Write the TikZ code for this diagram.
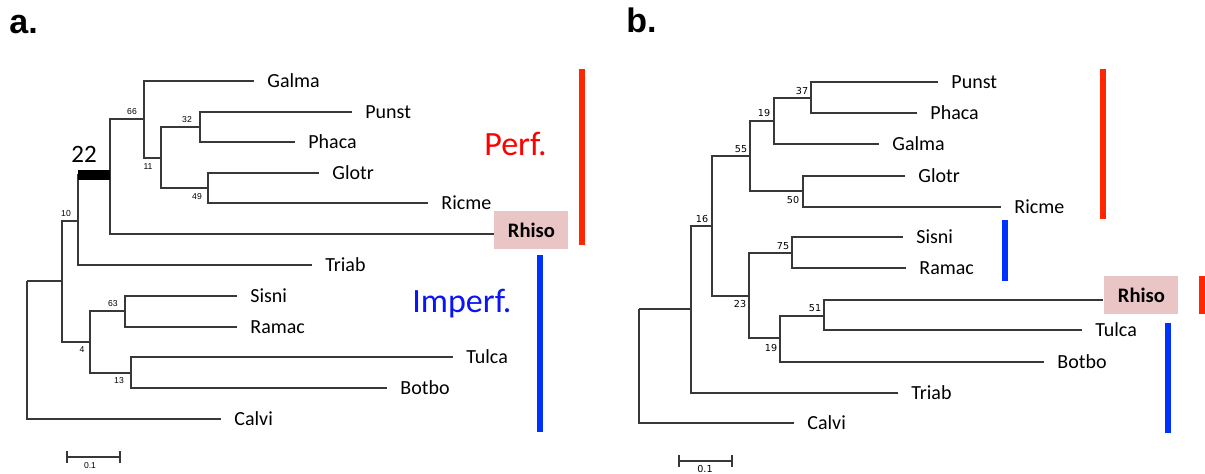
\documentclass[tikz,border=0pt]{standalone}
\usepackage{fontspec}
\setmainfont{Carlito}
\newfontfamily\arialfont{Liberation Sans}
\newfontfamily\verdfont{DejaVu Sans}
\definecolor{perfred}{RGB}{255,0,0}
\definecolor{barred}{RGB}{255,38,0}
\definecolor{imperfblue}{RGB}{10,20,245}
\definecolor{barblue}{RGB}{0,50,255}
\definecolor{rhisopink}{RGB}{233,197,197}
\begin{document}
\begin{tikzpicture}[x=0.5pt,y=-0.5pt,
  edge/.style={draw=black!78,line width=0.6pt},
  leaf/.style={anchor=west,inner xsep=6.5pt,inner ysep=0pt,text height=6.4pt,text depth=0pt,font=\fontsize{10}{12}\selectfont},
  rhisobox/.style={anchor=north west,fill=rhisopink,inner sep=0pt,minimum width=37pt,minimum height=19pt,font=\fontsize{10.3}{12}\selectfont\bfseries},
  bsA/.style={inner sep=0pt,font=\arialfont\fontsize{4.3}{5}\selectfont},
  bsB/.style={inner sep=0pt,font=\verdfont\fontsize{4.8}{5.5}\selectfont},
  groupbar/.style={line width=2.6pt},
  panel/.style={anchor=base west,inner sep=0pt,font=\arialfont\bfseries\fontsize{17}{20}\selectfont},
  grouptext/.style={anchor=base west,inner sep=0pt,font=\fontsize{17}{20}\selectfont}]
\useasboundingbox (0,0) rectangle (1205,474);

% ---------------- panel a ----------------
\node[panel] (pa) at (9,34) {a.};

% internal nodes
\coordinate (aRoot) at (27,281);
\coordinate (aA) at (62,281);
\coordinate (a10) at (78,221);
\coordinate (a22) at (110,175);
\coordinate (a66) at (144,119);
\coordinate (a11) at (161,158);
\coordinate (a32) at (200,127);
\coordinate (a49) at (208,188);
\coordinate (a4) at (90,342);
\coordinate (a63) at (125,311);
\coordinate (a13) at (131,373);

% leaves
\node[leaf] (aGalma) at (254,81) {Galma};
\node[leaf] (aPunst) at (352,112) {Punst};
\node[leaf] (aPhaca) at (295,142) {Phaca};
\node[leaf] (aGlotr) at (319,173) {Glotr};
\node[leaf] (aRicme) at (428,203) {Ricme};
\coordinate (aRhisoEnd) at (494,234);
\node[rhisobox] (aRhiso) at (494,211) {Rhiso};
\node[leaf] (aTriab) at (312,265) {Triab};
\node[leaf] (aSisni) at (237,296) {Sisni};
\node[leaf] (aRamac) at (237,327) {Ramac};
\node[leaf] (aTulca) at (453,357) {Tulca};
\node[leaf] (aBotbo) at (387,388) {Botbo};
\node[leaf] (aCalvi) at (221,419) {Calvi};

% branches
\draw[edge] (aRoot) -- (aA);
\draw[edge] (aRoot) |- (aCalvi.west);
\draw[edge] (aA) |- (a10);
\draw[edge] (aA) |- (a4);
\draw[edge] (a10) |- (a22);
\draw[edge] (a10) |- (aTriab.west);
\draw[edge] (a22) |- (a66);
\draw[edge] (a22) |- (aRhisoEnd);
\draw[edge] (a66) |- (aGalma.west);
\draw[edge] (a66) |- (a11);
\draw[edge] (a11) |- (a32);
\draw[edge] (a11) |- (a49);
\draw[edge] (a32) |- (aPunst.west);
\draw[edge] (a32) |- (aPhaca.west);
\draw[edge] (a49) |- (aGlotr.west);
\draw[edge] (a49) |- (aRicme.west);
\draw[edge] (a4) |- (a63);
\draw[edge] (a4) |- (a13);
\draw[edge] (a63) |- (aSisni.west);
\draw[edge] (a63) |- (aRamac.west);
\draw[edge] (a13) |- (aTulca.west);
\draw[edge] (a13) |- (aBotbo.west);

% highlighted stem
\fill[black] (78,170) rectangle (110,180);
\node[anchor=base west,inner sep=0pt,font=\fontsize{12.5}{14}\selectfont] (a22lab) at (71,163) {22};

% support values
\node[bsA] (l66) at (132,112) {66};
\node[bsA] (l11) at (148,167) {11};
\node[bsA] (l32) at (187,120) {32};
\node[bsA] (l49) at (197,197) {49};
\node[bsA] (l10) at (66,214) {10};
\node[bsA] (l63) at (113,304) {63};
\node[bsA] (l4) at (82,350) {4};
\node[bsA] (l13) at (119,381) {13};

% scale bar
\coordinate (asb1) at (67,457);
\coordinate (asb2) at (120,457);
\draw[edge] (asb1) -- (asb2);
\draw[edge] ([yshift=-3]asb1) -- ([yshift=3]asb1);
\draw[edge] ([yshift=-3]asb2) -- ([yshift=3]asb2);
\node[bsA] (asbl) at (90,466) {0.1};

% groups
\node[grouptext,text=perfred] (aPerf) at (484,156) {Perf.};
\node[grouptext,text=imperfblue] (aImperf) at (412,313) {Imperf.};
\draw[groupbar,barred] (582,69) -- (582,245);
\draw[groupbar,barblue] (540,255) -- (540,432);

% ---------------- panel b ----------------
\node[panel] (pb) at (626,33) {b.};

\coordinate (bRoot) at (639,309);
\coordinate (bB) at (691,309);
\coordinate (b16) at (712,226);
\coordinate (b55) at (750,156);
\coordinate (b19a) at (774,121);
\coordinate (b37) at (811,98);
\coordinate (b50) at (803,191);
\coordinate (b23) at (749,296);
\coordinate (b75) at (792,253);
\coordinate (b19b) at (780,338);
\coordinate (b51) at (824,316);

\node[leaf] (bPunst) at (938,82) {Punst};
\node[leaf] (bPhaca) at (917,113) {Phaca};
\node[leaf] (bGalma) at (879,144) {Galma};
\node[leaf] (bGlotr) at (905,176) {Glotr};
\node[leaf] (bRicme) at (1001,207) {Ricme};
\node[leaf] (bSisni) at (903,237) {Sisni};
\node[leaf] (bRamac) at (906,268) {Ramac};
\coordinate (bRhisoEnd) at (1103,300);
\node[rhisobox] (bRhiso) at (1104,276) {Rhiso};
\node[leaf] (bTulca) at (1082,330) {Tulca};
\node[leaf] (bBotbo) at (1044,362) {Botbo};
\node[leaf] (bTriab) at (898,393) {Triab};
\node[leaf] (bCalvi) at (794,423) {Calvi};

\draw[edge] (bRoot) -- (bB);
\draw[edge] (bRoot) |- (bCalvi.west);
\draw[edge] (bB) |- (b16);
\draw[edge] (bB) |- (bTriab.west);
\draw[edge] (b16) |- (b55);
\draw[edge] (b16) |- (b23);
\draw[edge] (b55) |- (b19a);
\draw[edge] (b55) |- (b50);
\draw[edge] (b19a) |- (b37);
\draw[edge] (b19a) |- (bGalma.west);
\draw[edge] (b37) |- (bPunst.west);
\draw[edge] (b37) |- (bPhaca.west);
\draw[edge] (b50) |- (bGlotr.west);
\draw[edge] (b50) |- (bRicme.west);
\draw[edge] (b23) |- (b75);
\draw[edge] (b23) |- (b19b);
\draw[edge] (b75) |- (bSisni.west);
\draw[edge] (b75) |- (bRamac.west);
\draw[edge] (b19b) |- (b51);
\draw[edge] (b19b) |- (bBotbo.west);
\draw[edge] (b51) |- (bRhisoEnd);
\draw[edge] (b51) |- (bTulca.west);

\node[bsB] (m37) at (802,91) {37};
\node[bsB] (m19a) at (764,113) {19};
\node[bsB] (m55) at (741,149) {55};
\node[bsB] (m50) at (793,200) {50};
\node[bsB] (m16) at (702,219) {16};
\node[bsB] (m75) at (783,246) {75};
\node[bsB] (m23) at (740,304) {23};
\node[bsB] (m19b) at (771,348) {19};
\node[bsB] (m51) at (815,308) {51};

\coordinate (bsb1) at (679,461);
\coordinate (bsb2) at (732,461);
\draw[edge] (bsb1) -- (bsb2);
\draw[edge] ([yshift=-3]bsb1) -- ([yshift=3]bsb1);
\draw[edge] ([yshift=-3]bsb2) -- ([yshift=3]bsb2);
\node[bsB] (bsbl) at (705,469) {0.1};

\draw[groupbar,barred] (1103,69) -- (1103,219);
\draw[groupbar,barblue] (1005,220) -- (1005,281);
\draw[groupbar,barred] (1202,276) -- (1202,314);
\draw[groupbar,barblue] (1168,323) -- (1168,433);
\end{tikzpicture}
\end{document}
